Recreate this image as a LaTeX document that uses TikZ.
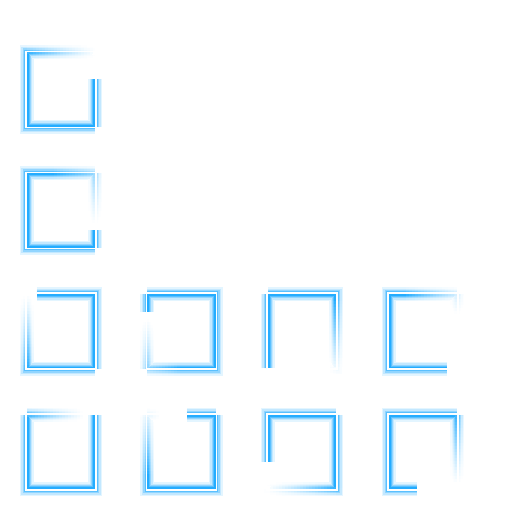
\documentclass[tikz,border=0pt]{standalone}
\usetikzlibrary{calc}
\definecolor{glow}{RGB}{25,168,255}

% point on the outline (inset by #3), clockwise from the top left corner
\newcommand\perim[3]{%
  \pgfmathsetmacro\pos{mod(#1,292)}%
  \pgfmathsetmacro\px{\pos<70 ? \pos : (\pos<146 ? 70 : (\pos<216 ? 216-\pos : 0))}%
  \pgfmathsetmacro\py{\pos<70 ? 0 : (\pos<146 ? \pos-70 : (\pos<216 ? 76 : 292-\pos))}%
  \pgfmathsetmacro\px{min(max(\px,#3),70-#3)}%
  \pgfmathsetmacro\py{min(max(\py,#3),76-#3)}%
  \coordinate (#2) at (\px,\py);}

% glowing trail: corner x, corner y, head, fade start, fade end
\newcommand\snake[5]{%
 \begin{scope}[shift={(#1,#2)}]
 \foreach \w/\k/\d in {14/12/0.8,11/26/0.8,8/48/0.8,5.5/72/0.8,3.5/95/0.8,1.7/0/0}{
  \foreach \t in {0,3,...,#5}{
   \pgfmathsetmacro\al{\t<#4 ? 1 : ((#5-\t)/(#5-#4))^1.3}
   \pgfmathtruncatemacro\kk{\k*\al}
   \pgfmathsetmacro\sa{mod(#3+\t,292)}
   \pgfmathsetmacro\sb{\sa+3.6}
   \pgfmathsetmacro\sm{((\sa<70) && (\sb>70)) ? 70 : (((\sa<146) && (\sb>146)) ? 146 : (((\sa<216) && (\sb>216)) ? 216 : ((\sb>292) ? 292 : (\sa+\sb)/2)))}
   \perim{\sa}{p}{\d}\perim{\sm}{q}{\d}\perim{\sb}{r}{\d}
   \draw[seg, line width=\w, color=glow!\kk!white] (p) -- (q) -- (r);
  }}
 \end{scope}}

\begin{document}
\begin{tikzpicture}[x=1pt, y=-1pt, seg/.style={line join=miter, line cap=butt}]
\useasboundingbox (0,0) rectangle (512,512);
\foreach \cx/\cy/\h/\ta/\tb in {26/51.5/97.5/190/265, 26/172.5/127.5/190/286,
  26/293.3/10.7/205/280, 146.5/293.3/273.6/200/285, 267/293.3/217/150/230, 388/293.3/157.3/150/225,
  26/414/70/215/280, 146.5/414/40/190/265, 267/414/244.3/190/265, 388/414/187.3/170/245}{
  \snake{\cx}{\cy}{\h}{\ta}{\tb}}
\end{tikzpicture}
\end{document}
